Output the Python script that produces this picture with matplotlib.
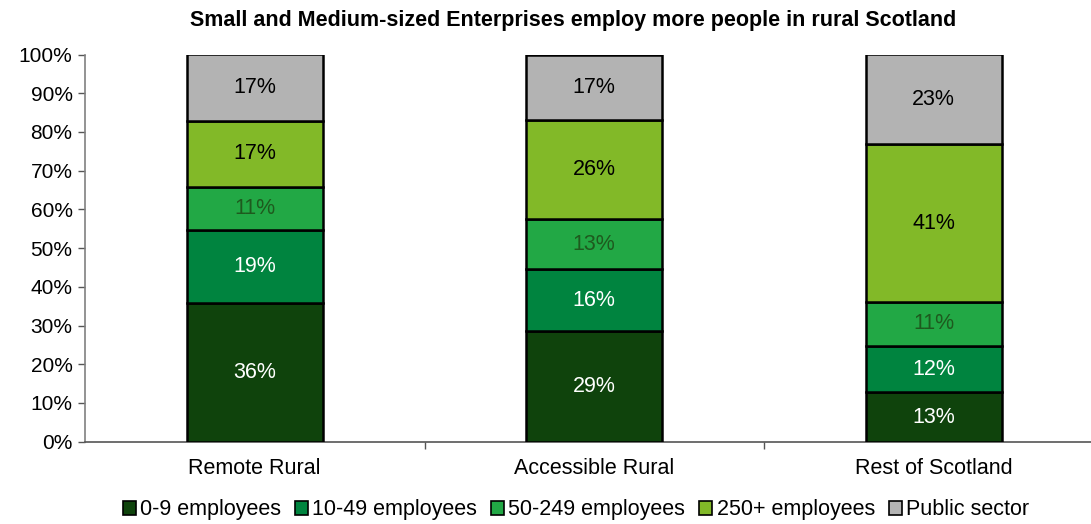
import matplotlib
matplotlib.use("Agg")
import matplotlib.pyplot as plt
import numpy as np

plt.rcParams['font.family'] = ['Liberation Sans', 'DejaVu Sans']

categories = ["Remote Rural", "Accessible Rural", "Rest of Scotland"]
series_names = ["0-9 employees", "10-49 employees", "50-249 employees",
                "250+ employees", "Public sector"]
emp_0_9 = [35.9, 28.6, 12.75]
emp_10_49 = [18.9, 15.9, 12.05]
emp_50_249 = [11.0, 12.9, 11.2]
emp_250_plus = [17.1, 25.6, 40.8]
public_sector = [17.1, 17.0, 23.2]
series_values = [emp_0_9, emp_10_49, emp_50_249, emp_250_plus, public_sector]

colors = ["#0F430C", "#00843F", "#22A845", "#82B928", "#B3B3B3"]
text_colors = ["white", "white", "#1E5A1E", "black", "black"]

fig = plt.figure(figsize=(10.91, 5.24), dpi=100)
ax = fig.add_axes([85/1091, (524-441.7)/524, 1 - 85/1091, (441.7-54.5)/524])

x = np.arange(len(categories))
bottom = np.zeros(len(categories))
for name, vals, c, tc in zip(series_names, series_values, colors, text_colors):
    vals = np.array(vals)
    ax.bar(x, vals, 0.4, bottom=bottom, color=c, edgecolor="black",
           linewidth=1.8, label=name, zorder=3)
    for xi, b, v in zip(x, bottom, vals):
        ax.text(xi, b + v / 2, f"{round(v):.0f}%", ha="center", va="center",
                color=tc, fontsize=15.5, zorder=4)
    bottom += vals

ax.set_ylim(0, 100)
ax.set_xlim(-0.5, -0.5 + 1006/339.5)
ax.set_yticks(np.arange(0, 101, 10))
ax.set_yticklabels([f"{v}%" for v in range(0, 101, 10)], fontsize=15)
ax.set_xticks(x)
ax.set_xticklabels(categories, fontsize=15.5)
ax.tick_params(axis='x', which='major', length=0, pad=12)
ax.set_xticks([0.5, 1.5], minor=True)
ax.tick_params(axis='x', which='minor', length=5, color="#555555", width=1)
ax.tick_params(axis='y', length=5, color="#555555", width=1, pad=4)

for s in ["top", "right"]:
    ax.spines[s].set_visible(False)
ax.spines["left"].set_color("#808080")
ax.spines["bottom"].set_color("#555555")
ax.spines["left"].set_linewidth(1.2)
ax.spines["bottom"].set_linewidth(1.2)

fig.suptitle("Small and Medium-sized Enterprises employ more people in rural Scotland",
             x=0.525, y=0.98, fontsize=15.5, fontweight="bold")

leg = fig.legend(loc="lower center", bbox_to_anchor=(0.528, -0.03), ncol=5,
                 frameon=False, fontsize=15.5, handlelength=0.6, handleheight=0.6,
                 handletextpad=0.2, columnspacing=0.65)
for h in leg.legend_handles:
    h.set_linewidth(1.2)

fig.savefig("out.png", dpi=100)
